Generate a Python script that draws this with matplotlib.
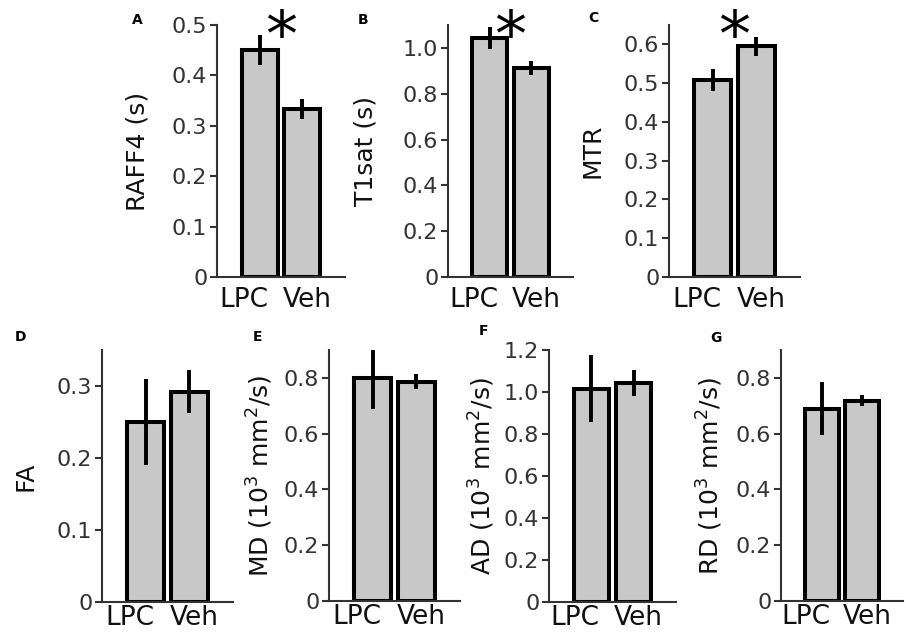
import numpy as np
import matplotlib
matplotlib.use("Agg")
import matplotlib.pyplot as plt
from matplotlib.transforms import ScaledTranslation

groups = ["LPC", "Veh"]

raff4 = [0.45, 0.333]
raff4_err = [0.03, 0.02]
t1sat = [1.044, 0.912]
t1sat_err = [0.048, 0.03]
mtr = [0.508, 0.595]
mtr_err = [0.029, 0.024]
fa = [0.25, 0.292]
fa_err = [0.06, 0.03]
md = [0.798, 0.787]
md_err = [0.108, 0.028]
ad = [1.016, 1.043]
ad_err = [0.16, 0.06]
rd = [0.69, 0.718]
rd_err = [0.095, 0.02]

letters = ["A", "B", "C", "D", "E", "F", "G"]
ylabels = ["RAFF4 (s)", "T1sat (s)", "MTR", "FA",
           "MD (10$^3$ mm$^2$/s)", "AD (10$^3$ mm$^2$/s)", "RD (10$^3$ mm$^2$/s)"]
values = [raff4, t1sat, mtr, fa, md, ad, rd]
errors = [raff4_err, t1sat_err, mtr_err, fa_err, md_err, ad_err, rd_err]
ytops = [0.5, 1.1, 0.65, 0.35, 0.9, 1.2, 0.9]
ysteps = [0.1, 0.2, 0.1, 0.1, 0.2, 0.2, 0.2]
signif = [True, True, True, False, False, False, False]

W, H = 906, 635
# axes boxes in pixels: left, right, top, bottom
boxes = [(217, 345, 25, 277), (448, 573, 25, 277), (669, 800, 25, 277),
         (102, 233, 350, 602), (329, 460, 350, 601), (549, 676, 350, 602),
         (781, 903, 350, 601)]
# right edge of y label (pixels)
label_x = [150, 377, 605, 37, 275, 497, 725]
# panel letter centres (pixels)
letter_pos = [(137, 20), (363, 20), (593, 18), (21, 337), (258, 337), (484, 331), (716, 338)]

fig = plt.figure(figsize=(W / 100, H / 100), dpi=100)
fig.patch.set_facecolor("white")

x = np.arange(len(groups))
for i in range(7):
    l, r, t, b = boxes[i]
    ax = fig.add_axes([l / W, 1 - b / H, (r - l) / W, (b - t) / H])
    ax.bar(x, values[i], width=0.84, color="#c8c8c8", edgecolor="black",
           linewidth=2.9, zorder=2)
    ax.errorbar(x, values[i], yerr=errors[i], fmt="none", ecolor="black",
                elinewidth=2.8, capsize=0, zorder=3)
    ax.set_xlim(-1, 2)
    ax.set_ylim(0, ytops[i])
    ticks = np.arange(0, ytops[i] + 1e-9, ysteps[i])
    ax.set_yticks(ticks)
    ax.set_yticklabels(["0" if v == 0 else f"{v:.1f}" for v in ticks])
    ax.set_xticks(x)
    ax.set_xticklabels(groups)
    for s in ["top", "right"]:
        ax.spines[s].set_visible(False)
    for s in ["left", "bottom"]:
        ax.spines[s].set_linewidth(1.5)
        ax.spines[s].set_color("#333333")
    ax.tick_params(axis="y", direction="out", length=5, width=1.5, color="#333333",
                   labelsize=16, labelcolor="#333333", pad=2)
    ax.tick_params(axis="x", length=0, labelsize=19, labelcolor="#111111",
                   pad=7 if i < 3 else 2)
    shifts = [-16, 5]
    for lab, dx in zip(ax.get_xticklabels(), shifts):
        lab.set_transform(lab.get_transform() + ScaledTranslation(dx / 100, 0, fig.dpi_scale_trans))
    ax.set_ylabel(ylabels[i], fontsize=18, color="#111111")
    ax.yaxis.set_label_coords((label_x[i] - l) / (r - l), 0.5)
    if signif[i]:
        # asterisk glyph sits high above the baseline, so pull the baseline down
        ax.annotate("*", xy=(0.5, ytops[i]), xytext=(0, -22), textcoords="offset points",
                    fontsize=46, ha="center", va="baseline", annotation_clip=False, zorder=5)
    lx, ly = letter_pos[i]
    fig.text(lx / W, 1 - ly / H, letters[i], fontsize=10, fontweight="bold",
             ha="center", va="center")

fig.savefig("out.png", dpi=100)
